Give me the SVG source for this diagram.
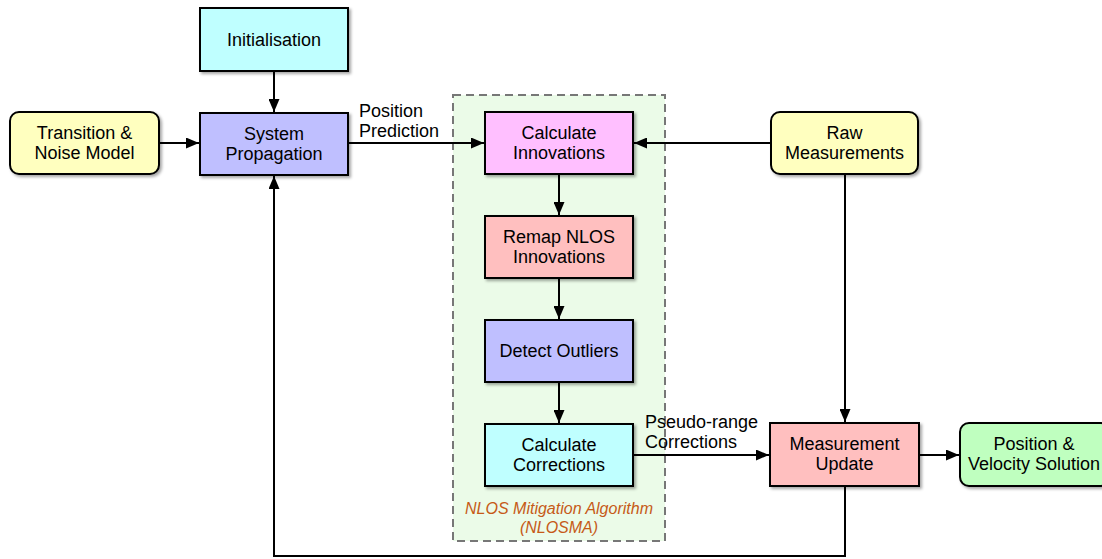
<svg xmlns="http://www.w3.org/2000/svg" width="1102" height="559" viewBox="0 0 1102 559">
<defs>
<filter id="sh" x="-10%" y="-10%" width="125%" height="130%">
<feDropShadow dx="2" dy="2" stdDeviation="1.5" flood-color="#000" flood-opacity="0.35"/>
</filter>
<marker id="ah" viewBox="0 0 13 11" refX="13" refY="5.5" markerWidth="13" markerHeight="11" markerUnits="userSpaceOnUse" orient="auto">
<path d="M0,0 L13,5.5 L0,11 Z" fill="#000"/>
</marker>
</defs>
<style>
.box{stroke:#000;stroke-width:2;filter:url(#sh)}
.t{font-family:"Liberation Sans",Arial,sans-serif;font-size:18px;fill:#000;text-anchor:middle}
.lbl{font-family:"Liberation Sans",Arial,sans-serif;font-size:18px;fill:#000}
.c{fill:none;stroke:#000;stroke-width:2}
.grp{font-family:"Liberation Sans",Arial,sans-serif;font-size:16px;fill:#c65a17;font-style:italic;text-anchor:middle}
</style>
<rect width="1102" height="559" fill="#fff"/>
<g id="nlosma">
<rect x="453" y="95" width="212" height="446" fill="#ebfbe8" stroke="#777" stroke-width="2" stroke-dasharray="8,5"/>
<text class="grp" x="559" y="514">NLOS Mitigation Algorithm</text>
<text class="grp" x="559" y="533">(NLOSMA)</text>
</g>
<g id="connectors">
<path class="c" d="M274,71 V112" marker-end="url(#ah)"/>
<path class="c" d="M159,143 H199" marker-end="url(#ah)"/>
<path class="c" d="M348,143 H484" marker-end="url(#ah)"/>
<path class="c" d="M771,143 H634" marker-end="url(#ah)"/>
<path class="c" d="M559,174 V215" marker-end="url(#ah)"/>
<path class="c" d="M559,278 V319" marker-end="url(#ah)"/>
<path class="c" d="M559,382 V423" marker-end="url(#ah)"/>
<path class="c" d="M633,455 H769" marker-end="url(#ah)"/>
<path class="c" d="M845,174 V422" marker-end="url(#ah)"/>
<path class="c" d="M919,455 H959" marker-end="url(#ah)"/>
<path class="c" d="M845,486 V556 H274 V176" marker-end="url(#ah)"/>
<text class="lbl" x="359" y="117">Position</text>
<text class="lbl" x="359" y="137">Prediction</text>
<text class="lbl" x="645" y="428">Pseudo-range</text>
<text class="lbl" x="645" y="448">Corrections</text>
</g>
<g id="initialisation">
<rect class="box" x="200" y="8" width="148" height="63" fill="#bfffff"/>
<text class="t" x="274" y="46">Initialisation</text>
</g>
<g id="transition">
<rect class="box" x="10" y="112" width="149" height="62" rx="9" fill="#ffffbf"/>
<text class="t" x="84.5" y="139">Transition &amp;</text>
<text class="t" x="84.5" y="159">Noise Model</text>
</g>
<g id="system-propagation">
<rect class="box" x="200" y="113" width="148" height="62" fill="#bfbfff"/>
<text class="t" x="274" y="140">System</text>
<text class="t" x="274" y="160">Propagation</text>
</g>
<g id="calc-innovations">
<rect class="box" x="485" y="112" width="148" height="62" fill="#ffbfff"/>
<text class="t" x="559" y="139">Calculate</text>
<text class="t" x="559" y="159">Innovations</text>
</g>
<g id="remap">
<rect class="box" x="485" y="216" width="148" height="62" fill="#ffbfbf"/>
<text class="t" x="559" y="243">Remap NLOS</text>
<text class="t" x="559" y="263">Innovations</text>
</g>
<g id="detect">
<rect class="box" x="485" y="320" width="148" height="62" fill="#bfbfff"/>
<text class="t" x="559" y="357">Detect Outliers</text>
</g>
<g id="calc-corrections">
<rect class="box" x="485" y="424" width="148" height="62" fill="#bfffff"/>
<text class="t" x="559" y="451">Calculate</text>
<text class="t" x="559" y="471">Corrections</text>
</g>
<g id="raw">
<rect class="box" x="771" y="112" width="147" height="62" rx="9" fill="#ffffbf"/>
<text class="t" x="844.5" y="139">Raw</text>
<text class="t" x="844.5" y="159">Measurements</text>
</g>
<g id="measurement-update">
<rect class="box" x="770" y="423" width="149" height="63" fill="#ffbfbf"/>
<text class="t" x="844.5" y="450">Measurement</text>
<text class="t" x="844.5" y="470">Update</text>
</g>
<g id="solution">
<rect class="box" x="960" y="423" width="150" height="63" rx="9" fill="#bfffbf"/>
<text class="t" x="1034" y="450">Position &amp;</text>
<text class="t" x="1034" y="470">Velocity Solution</text>
</g>
</svg>
